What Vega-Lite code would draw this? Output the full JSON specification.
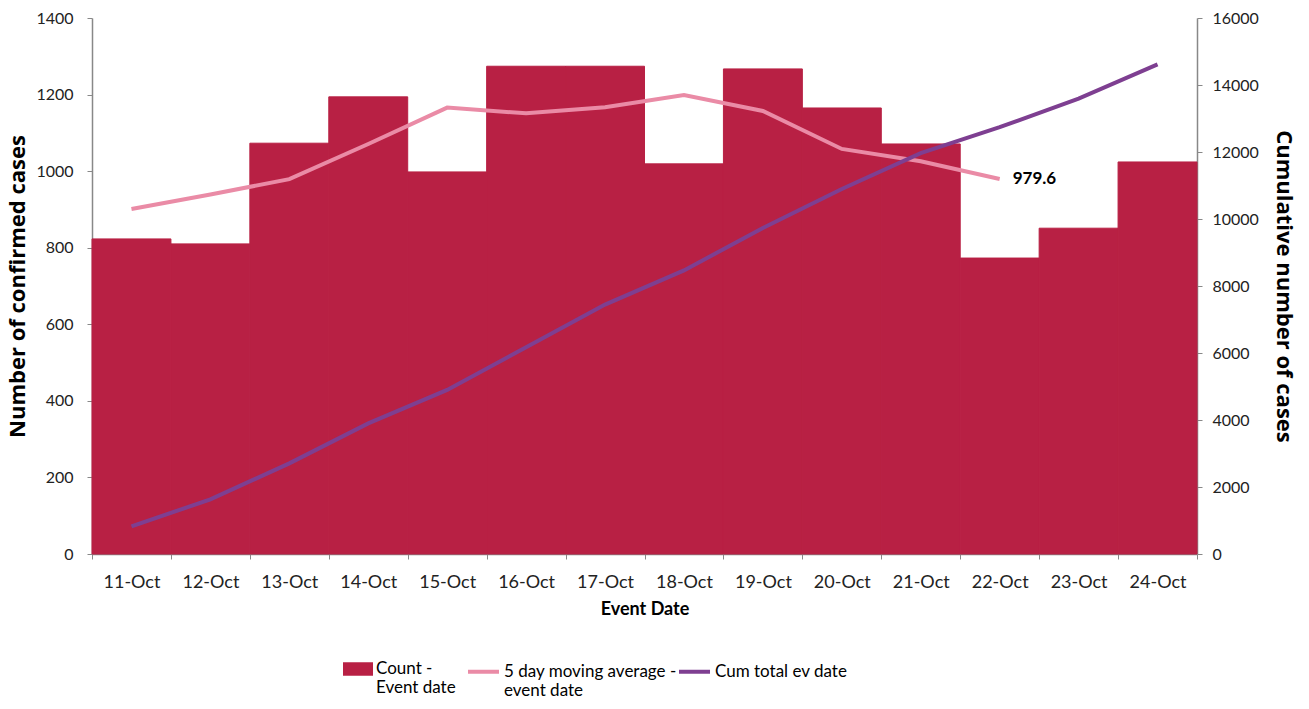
{
  "$schema": "https://vega.github.io/schema/vega-lite/v6.json",
  "autosize": "none",
  "width": 1105,
  "height": 536,
  "padding": {"left": 92, "top": 18, "right": 112, "bottom": 155},
  "background": "white",
  "config": {
    "view": {"stroke": null},
    "font": "Lato",
    "axis": {"grid": false, "domainColor": "#888888", "tickColor": "#888888", "labelColor": "#222222", "labelFont": "Lato", "labelFontSize": 16, "titleFont": "Open Sans", "titleColor": "#000000", "tickSize": 5, "domainWidth": 1.5, "labelOverlap": false, "labelFlush": false, "labelLimit": 0}
  },
  "data": {"values": [
    {"date": "11-Oct", "count": 823, "ma": 901, "cum": 823},
    {"date": "12-Oct", "count": 810, "ma": 939, "cum": 1633},
    {"date": "13-Oct", "count": 1073, "ma": 979, "cum": 2706},
    {"date": "14-Oct", "count": 1194, "ma": 1071, "cum": 3900},
    {"date": "15-Oct", "count": 998, "ma": 1166, "cum": 4898},
    {"date": "16-Oct", "count": 1274, "ma": 1151, "cum": 6172},
    {"date": "17-Oct", "count": 1274, "ma": 1167, "cum": 7446},
    {"date": "18-Oct", "count": 1019, "ma": 1199, "cum": 8465},
    {"date": "19-Oct", "count": 1267, "ma": 1157, "cum": 9732},
    {"date": "20-Oct", "count": 1165, "ma": 1058, "cum": 10897},
    {"date": "21-Oct", "count": 1071, "ma": 1026, "cum": 11968},
    {"date": "22-Oct", "count": 773, "ma": 979.6, "cum": 12741, "label": "979.6"},
    {"date": "23-Oct", "count": 851, "ma": null, "cum": 13592},
    {"date": "24-Oct", "count": 1024, "ma": null, "cum": 14616}
  ]},
  "encoding": {
    "x": {"field": "date", "type": "ordinal", "sort": null,
      "scale": {"paddingInner": 0, "paddingOuter": 0},
      "axis": {"title": "Event Date", "titleFont": "Lato", "titleFontSize": 18, "titleFontWeight": "bold", "labelFontSize": 18, "labelAngle": 0, "labelPadding": 14, "tickBand": "extent", "titlePadding": 9}}
  },
  "layer": [
    {
      "layer": [
        {
          "mark": {"type": "bar", "stroke": "#B82044", "strokeWidth": 1},
          "encoding": {
            "y": {"field": "count", "type": "quantitative", "scale": {"domain": [0, 1400]},
              "axis": {"title": "Number of confirmed cases", "titleFontSize": 22, "titleFontWeight": "bold", "values": [0,200,400,600,800,1000,1200,1400], "format": "d", "labelPadding": 14, "titlePadding": 6}},
            "fill": {"datum": "Count - Event date", "type": "nominal",
              "scale": {"domain": ["Count - Event date"], "range": ["#B82044"]},
              "legend": {"title": null, "orient": "none", "legendX": 251, "legendY": 636, "symbolType": "M-1,-0.45H1V0.45H-1Z", "symbolSize": 900, "symbolStrokeWidth": 0, "labelFontSize": 17, "labelFont": "Lato", "labelColor": "#000000", "labelBaseline": "middle", "labelOffset": 3, "labelLimit": 0,
                "labelExpr": "['Count -', 'Event date']"}}
          }
        },
        {
          "mark": {"type": "line", "strokeWidth": 4},
          "encoding": {
            "y": {"field": "ma", "type": "quantitative"},
            "stroke": {"datum": "5 day moving average - event date", "type": "nominal",
              "scale": {"domain": ["5 day moving average - event date", "Cum total ev date"], "range": ["#EA8BA6", "#7E3F91"]},
              "legend": {"title": null, "orient": "none", "legendX": 374, "legendY": 636, "direction": "horizontal", "columns": 2, "columnPadding": -12, "symbolType": "stroke", "symbolSize": 961, "symbolStrokeWidth": 4, "labelFontSize": 17, "labelFont": "Lato", "labelColor": "#000000", "labelBaseline": "middle", "labelOffset": 3, "labelLimit": 0,
                "labelExpr": "datum.label == 'Cum total ev date' ? ['Cum total ev date', ' '] : ['5 day moving average -', 'event date']"}}
          }
        },
        {
          "transform": [{"filter": "datum.label != null"}],
          "mark": {"type": "text", "align": "left", "dx": 13, "fontSize": 17, "fontWeight": "bold", "font": "Lato", "color": "#000000"},
          "encoding": {
            "y": {"field": "ma", "type": "quantitative"},
            "text": {"field": "label"}
          }
        }
      ]
    },
    {
      "mark": {"type": "line", "strokeWidth": 4},
      "encoding": {
        "y": {"field": "cum", "type": "quantitative", "scale": {"domain": [0, 16000]},
          "axis": {"orient": "right", "title": "Cumulative number of cases", "titleFontSize": 22, "titleFontWeight": "bold", "values": [0,2000,4000,6000,8000,10000,12000,14000,16000], "format": "d", "labelPadding": 10, "titlePadding": 13}},
        "stroke": {"datum": "Cum total ev date", "type": "nominal"}
      }
    }
  ],
  "resolve": {"scale": {"y": "independent"}}
}
